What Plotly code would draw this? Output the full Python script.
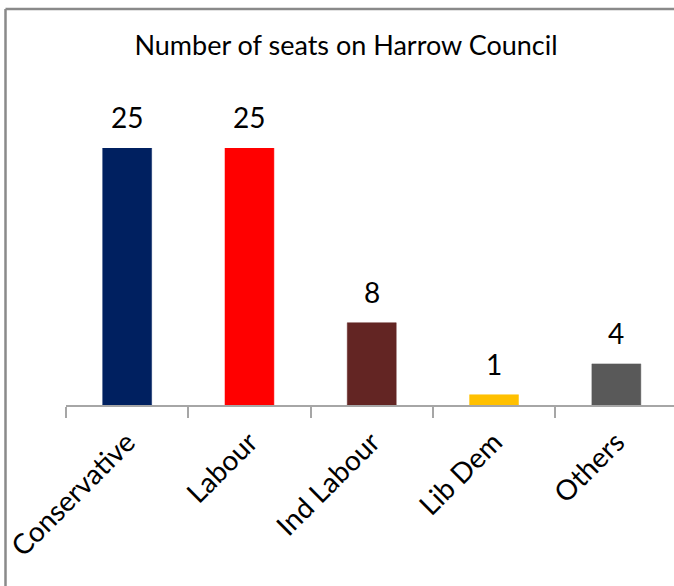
import plotly.graph_objects as go

categories = ["Conservative", "Labour", "Ind Labour", "Lib Dem", "Others"]
seats = [25, 25, 8, 1, 4]
bar_colors = ["#002060", "#FF0000", "#632523", "#FFC000", "#595959"]
title_text = "Number of seats on Harrow Council"

W, H = 674, 586
ml, mr, mt, mb = 66, 0, 148, 181
FONT = "Lato, Calibri, Carlito, sans-serif"

fig = go.Figure()
fig.add_trace(go.Bar(
    x=categories, y=seats, width=0.4,
    marker=dict(color=bar_colors, line=dict(color=bar_colors, width=0.5)),
    hoverinfo="skip", cliponaxis=False,
))

for c, v in zip(categories, seats):
    fig.add_annotation(x=c, y=v, text=str(v), showarrow=False,
                       yanchor="bottom", yshift=12,
                       font=dict(family=FONT, size=28, color="#000000"))

pw = W - ml - mr
ph = H - mt - mb
def px_x(x):
    return (x - ml) / pw
def px_y(y):
    return (H - mb - y) / ph

border = "#8A8A8A"
fig.add_shape(type="line", xref="paper", yref="paper",
              x0=px_x(5.5), x1=px_x(W + 5), y0=px_y(9), y1=px_y(9),
              line=dict(color=border, width=2.5))
fig.add_shape(type="line", xref="paper", yref="paper",
              x0=px_x(5.5), x1=px_x(5.5), y0=px_y(9), y1=px_y(H + 5),
              line=dict(color=border, width=2.5))

fig.update_layout(
    width=W, height=H,
    margin=dict(l=ml, r=mr, t=mt, b=mb, pad=0),
    paper_bgcolor="white", plot_bgcolor="white",
    showlegend=False,
    title=dict(text=title_text, x=346 / W, xanchor="center",
               y=1 - 46 / H, yanchor="middle",
               font=dict(family=FONT, size=27, color="#000000")),
    xaxis=dict(
        range=[-0.5, -0.5 + pw / 122.3],
        showline=True, linecolor="#A6A6A6", linewidth=1.5,
        ticks="outside", tickson="boundaries", ticklen=11,
        tickcolor="#A6A6A6", tickwidth=1.5,
        tickangle=-45, showgrid=False, zeroline=False,
        tickfont=dict(family=FONT, size=28, color="#000000"),
        ticklabelstandoff=8,
    ),
    yaxis=dict(range=[0, 25], visible=False, showgrid=False, zeroline=False),
)

fig.write_html("out.html", config={"displayModeBar": False},
               post_script="document.body.style.margin='0';document.body.style.overflow='hidden';")
